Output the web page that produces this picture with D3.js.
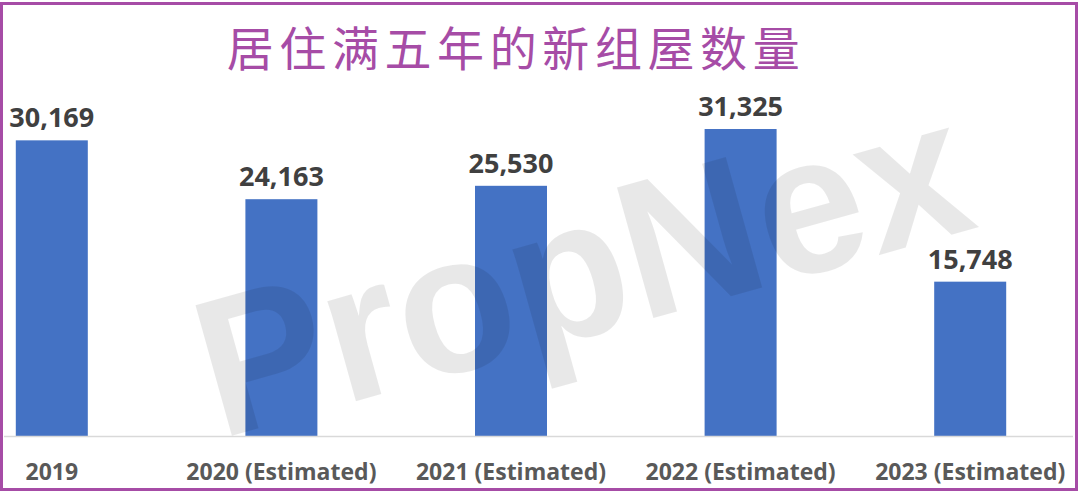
<!DOCTYPE html>
<html><head><meta charset="utf-8">
<script src="https://cdn.jsdelivr.net/npm/d3@7"></script>
<style>html,body{margin:0;padding:0;background:#fff;}svg{display:block;}</style>
</head><body>
<script>
const categories = ["2019","2020 (Estimated)","2021 (Estimated)","2022 (Estimated)","2023 (Estimated)"];
const values = [30169, 24163, 25530, 31325, 15748];
const valueLabels = ["30,169","24,163","25,530","31,325","15,748"];
const title = "居住满五年的新组屋数量";
const watermark = "PropNex";

const W = 1080, H = 495;
const svg = d3.select("body").append("svg").attr("width", W).attr("height", H);
svg.append("rect").attr("width", W).attr("height", H).attr("fill", "#fff");

const x = d3.scaleBand().domain(categories).range([-63, 1085]).paddingInner(0.686).paddingOuter(0.343);
const y = d3.scaleLinear().domain([0, 35000]).range([436, 93]);

// bars
svg.append("g").selectAll("rect").data(values).join("rect")
  .attr("x", (d,i) => x(categories[i]) + (x.bandwidth()-72)/2)
  .attr("width", 72)
  .attr("y", d => y(d)).attr("height", d => y(0) - y(d))
  .attr("fill", "#4472C4");

// axis line
svg.append("line").attr("x1", 4).attr("x2", 1073).attr("y1", y(0)+0.5).attr("y2", y(0)+0.5)
  .attr("stroke", "#d9d9d9").attr("stroke-width", 1.5);

// category labels
svg.append("g").selectAll("text").data(categories).join("text")
  .attr("x", d => x(d) + x.bandwidth()/2).attr("y", 480)
  .attr("text-anchor", "middle")
  .attr("font-family", "'Open Sans', sans-serif").attr("font-weight", 700)
  .attr("font-size", 23).attr("fill", "#595959")
  .text(d => d);

// value labels
svg.append("g").selectAll("text").data(values).join("text")
  .attr("x", (d,i) => x(categories[i]) + x.bandwidth()/2).attr("y", d => y(d) - 13)
  .attr("text-anchor", "middle")
  .attr("font-family", "'Open Sans', sans-serif").attr("font-weight", 700)
  .attr("font-size", 27).attr("fill", "#404040")
  .text((d,i) => valueLabels[i]);

// watermark
svg.append("text")
  .attr("transform", "translate(600,333) rotate(-15.6)")
  .attr("text-anchor", "middle")
  .attr("font-family", "'Liberation Sans', Arial, sans-serif").attr("font-weight", 700)
  .attr("font-size", 197).attr("fill", "#000").attr("fill-opacity", 0.09)
  .attr("textLength", 790).attr("lengthAdjust", "spacingAndGlyphs")
  .text(watermark);

// title
svg.append("text")
  .attr("x", 516).attr("y", 66)
  .attr("text-anchor", "middle")
  .attr("font-family", "'Noto Sans CJK SC', sans-serif").attr("font-weight", 400)
  .attr("font-size", 47).attr("letter-spacing", 5.6).attr("fill", "#A64CA6")
  .text(title);

// border
svg.append("rect").attr("x", 1.5).attr("y", 3.5).attr("width", 1075).attr("height", 486)
  .attr("fill", "none").attr("stroke", "#A64CA6").attr("stroke-width", 3);
</script>
</body></html>
